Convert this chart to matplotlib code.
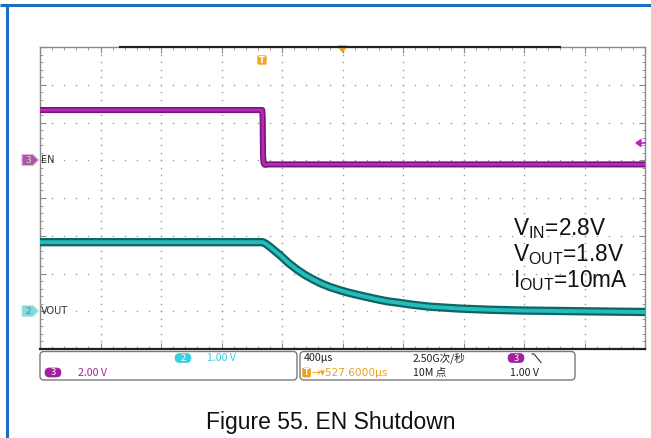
import matplotlib
matplotlib.use('Agg')
import matplotlib.pyplot as plt
from matplotlib.patches import FancyBboxPatch, Polygon
import numpy as np

plt.rcParams['mathtext.fontset'] = 'custom'
plt.rcParams['mathtext.rm'] = 'Liberation Sans'
plt.rcParams['mathtext.it'] = 'Liberation Sans:italic'
plt.rcParams['mathtext.bf'] = 'Liberation Sans:bold'

W, H = 651, 438

# scope settings
t_div = 400          # µs/div
t_center = 527.6     # horizontal position, µs
en_scale = 2.0       # ch3 V/div
en_offset = 1.0      # ch3 ground, div above centre
vout_scale = 1.0     # ch2 V/div
vout_offset = -3.0   # ch2 ground, div from centre

# EN (ch3), time in µs from trigger
en_t = [-1472.4, -3, 0, 2, 6, 14, 40, 2527.6]
en_v = [2.66, 2.66, 2.2, 0.3, -0.15, -0.24, -0.22, -0.22]

# VOUT (ch2)
vout_t = [-1472.4, 0, 20, 50, 80, 116, 170, 228, 280, 334, 390, 446, 500, 559,
          610, 664, 720, 777, 830, 889, 995, 1107, 1306, 1500, 1702, 2100, 2527.6]
vout_v = [1.83, 1.83, 1.79, 1.70, 1.60, 1.48, 1.28, 1.10, 0.96, 0.84, 0.73, 0.64,
          0.57, 0.50, 0.45, 0.40, 0.35, 0.30, 0.26, 0.23, 0.17, 0.12, 0.07, 0.04,
          0.02, 0.0, -0.02]

fig = plt.figure(figsize=(W / 100, H / 100), dpi=100, facecolor='white')

# scope graticule
ax = fig.add_axes([40 / W, 1 - 349 / H, 605 / W, 302 / H])
x0, x1 = t_center - 5 * t_div, t_center + 5 * t_div
ax.set_xlim(x0, x1)
ax.set_ylim(-4, 4)

grid_col = '#9a9a9a'
for k in range(1, 10):
    xs = x0 + k * t_div
    ys = np.arange(-4, 4.01, 0.2)
    ax.plot([xs] * len(ys), ys, ls='none', marker='s', ms=1.0, color=grid_col, mew=0)
for j in range(-3, 4):
    xs = np.arange(x0, x1 + 1, t_div / 5)
    ax.plot(xs, [j] * len(xs), ls='none', marker='s', ms=1.0, color=grid_col, mew=0)

ax.set_xticks([x0 + k * t_div for k in range(11)])
ax.set_xticks([x0 + k * t_div / 5 for k in range(51)], minor=True)
ax.set_yticks(range(-4, 5))
ax.set_yticks(np.arange(-4, 4.01, 0.2), minor=True)
ax.tick_params(which='both', direction='in', top=True, right=True,
               labelbottom=False, labelleft=False, color='#8a8a8a')
ax.tick_params(which='major', length=4, width=0.8)
ax.tick_params(which='minor', length=2, width=0.6)
for s in ax.spines.values():
    s.set_color('#8a8a8a')
    s.set_linewidth(1.0)
ax.spines['bottom'].set_color('#202020')
ax.spines['bottom'].set_linewidth(1.6)

en_y = [v / en_scale + en_offset for v in en_v]
vout_y = [v / vout_scale + vout_offset for v in vout_v]
ax.plot(en_t, en_y, color='#7c127e', lw=4.4, zorder=5)
ax.plot(en_t, en_y, color='#b42cb4', lw=2.0, zorder=6)
ax.plot(vout_t, vout_y, color='#0b6664', lw=6.0, zorder=5)
ax.plot(vout_t, vout_y, color='#26bcbc', lw=2.8, zorder=6)

# overlay in pixel coordinates for the scope decorations
ov = fig.add_axes([0, 0, 1, 1], zorder=10)
ov.set_xlim(0, W)
ov.set_ylim(H, 0)
ov.axis('off')

blue = '#1b6fc2'
ov.plot([0, W], [4.5, 4.5], color=blue, lw=2.2, solid_capstyle='butt')
ov.plot([7, 7], [4.5, H], color=blue, lw=2.2, solid_capstyle='butt')

# record bar on top edge
ov.plot([120, 560], [47, 47], color='#202020', lw=1.5)

# trigger position / trigger marker
ov.add_patch(Polygon([(338, 46), (347, 46), (342.5, 52)], closed=True, color='#f0a020'))
ov.add_patch(FancyBboxPatch((257.5, 55.5), 9, 9, boxstyle='round,pad=0,rounding_size=1.5',
                            fc='#f5a623', ec='#f5c060', lw=0.6))
ov.text(262, 60.3, 'T', color='white', fontsize=6, ha='center', va='center', weight='bold')

# channel tags
ov.add_patch(Polygon([(22, 154.5), (33, 154.5), (38.5, 160), (33, 165.5), (22, 165.5)],
                     closed=True, fc='#a25ea2', ec='#eaa6ea', lw=0.8))
ov.text(28.5, 160.3, '3', color='#e8c8e8', fontsize=6.5, ha='center', va='center')
ov.text(41, 160, 'EN', color='#303030', fontsize=7, ha='left', va='center')
ov.add_patch(Polygon([(22, 305.5), (33, 305.5), (38.5, 311), (33, 316.5), (22, 316.5)],
                     closed=True, fc='#84d8d8', ec='#b8ecec', lw=0.8))
ov.text(28.5, 311.3, '2', color='#3a9898', fontsize=6.5, ha='center', va='center')
ov.text(41, 311, 'VOUT', color='#303030', fontsize=7, ha='left', va='center')

# ch3 trigger level arrow
ov.add_patch(Polygon([(636, 143), (641, 139.5), (641, 146.5)], closed=True, color='#c020c0'))
ov.plot([640, 645], [143, 143], color='#c020c0', lw=1.2)

# bottom info panel
for bx, bw in [(40, 257), (300, 275)]:
    ov.add_patch(FancyBboxPatch((bx, 351.5), bw, 28.5, boxstyle='round,pad=0,rounding_size=4',
                                fc='white', ec='#7a7a7a', lw=1.0))

panel_font = ['Noto Sans CJK SC', 'DejaVu Sans']
purple = '#a020a0'
cyan = '#38d0e0'
orange = '#f0a020'
fs = 7.6

def pill(cx, cy, label, col):
    ov.add_patch(FancyBboxPatch((cx - 8, cy - 4.5), 16, 9, boxstyle='round,pad=0,rounding_size=4.5',
                                fc=col, ec=col, lw=0.5))
    ov.text(cx, cy + 0.3, label, color='white', fontsize=6.8, ha='center', va='center',
            family=panel_font)

pill(183, 358, '2', cyan)
ov.text(207, 358, '1.00 V', color=cyan, fontsize=fs, va='center', family=panel_font)
pill(53, 372.5, '3', purple)
ov.text(78, 372.5, '2.00 V', color=purple, fontsize=fs, va='center', family=panel_font)

ov.text(304, 358, '400µs', color='#202020', fontsize=fs, va='center', family=panel_font)
ov.text(413, 358, '2.50G次/秒', color='#202020', fontsize=fs, va='center', family=panel_font)
pill(516, 358, '3', purple)
ov.plot([532, 534, 541], [354, 354, 362.5], color='#303030', lw=0.8)
ov.add_patch(FancyBboxPatch((302.5, 368), 8, 9, boxstyle='round,pad=0,rounding_size=1.5',
                            fc=orange, ec=orange, lw=0.5))
ov.text(306.5, 372.8, 'T', color='white', fontsize=5.5, ha='center', va='center', weight='bold')
ov.text(311, 372.5, '→▾527.6000µs', color=orange, fontsize=fs, va='center',
        family=['DejaVu Sans'])
ov.text(413, 372.5, '10M 点', color='#202020', fontsize=fs, va='center', family=panel_font)
ov.text(510, 372.5, '1.00 V', color='#202020', fontsize=fs, va='center', family=panel_font)

# test conditions
ov.text(513, 235, r'V$_{\mathrm{IN}}$=2.8V', fontsize=16.3, family='Liberation Sans',
        va='baseline', color='#111111')
ov.text(513, 261, r'V$_{\mathrm{OUT}}$=1.8V', fontsize=16.3, family='Liberation Sans',
        va='baseline', color='#111111')
ov.text(513, 287, r'I$_{\mathrm{OUT}}$=10mA', fontsize=16.3, family='Liberation Sans',
        va='baseline', color='#111111')

# caption
ov.text(331, 423, 'Figure 55. EN Shutdown', fontsize=16.5, family='Liberation Sans',
        ha='center', va='center', color='#111111')

fig.savefig('out.png', dpi=100, facecolor='white')
